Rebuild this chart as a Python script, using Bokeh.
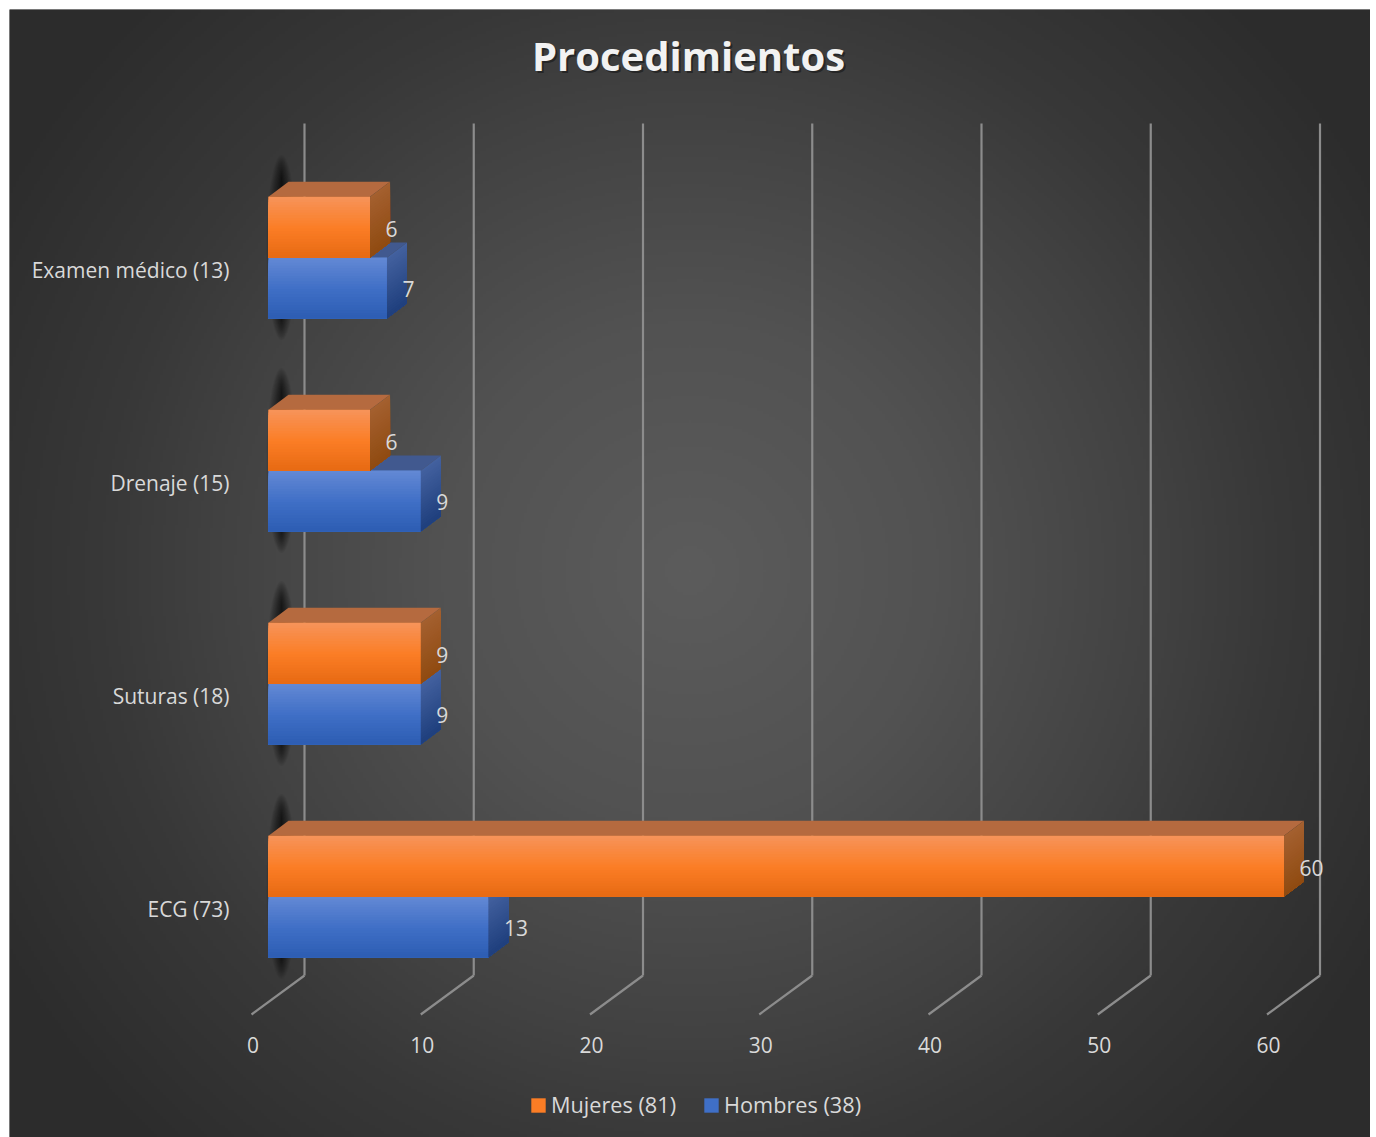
from bokeh.plotting import figure
from bokeh.models import Range1d, LinearAxis, FixedTicker, Legend, LegendItem, Label, ColumnDataSource
from bokeh.core.properties import value
from bokeh.embed import file_html
from bokeh.resources import INLINE
import numpy as np

categories = ["ECG (73)", "Suturas (18)", "Drenaje (15)", "Examen médico (13)"]
mujeres = [60, 9, 6, 6]
hombres = [13, 9, 9, 7]
ticks = [0, 10, 20, 30, 40, 50, 60]
title_text = "Procedimientos"
legend_mujeres = "Mujeres (81)"
legend_hombres = "Hombres (38)"

FONT = "Open Sans"
TXT = "#D9D9D9"
OX, OY = 9, 9                    # page position of the chart
W, H = 1361, 1128
PAGE_X0, PAGE_Y0 = 268, 896      # page pixel of value 0 / first category
PX = 1015.5 / 60                 # pixels per unit on x
PY = 213                         # pixels per category on y
xs, xe = (OX - PAGE_X0) / PX, (OX + W - PAGE_X0) / PX
ys, ye = (PAGE_Y0 - OY - H) / PY, (PAGE_Y0 - OY) / PY
dx = lambda px: px / PX
dy = lambda px: px / PY

p = figure(width=W, height=H, output_backend="svg", toolbar_location=None,
           x_range=Range1d(xs, xe), y_range=Range1d(ys, ye), min_border=0,
           outline_line_color=None, border_fill_color="#2b2b2b", background_fill_color="#2b2b2b")
p.margin = (OY, 0, 0, OX)
p.xaxis.visible = False
p.yaxis.visible = False
p.grid.visible = False

# background radial gradient
gx, gy = np.meshgrid(np.arange(0, W + 3, 3) + float(OX), OY + H - np.arange(0, H + 3, 3.0))
r = np.hypot(gx - 690, gy - 570)
lum = np.interp(r, [0, 250, 470, 590, 780, 1000], [0x5c, 0x52, 0x42, 0x38, 0x2d, 0x2b]).astype(np.uint32)
img = (255 << 24) | (lum << 16) | (lum << 8) | lum
p.image_rgba(image=[img.astype(np.uint32)], x=xs, y=ys, dw=xe - xs, dh=ye - ys)

# wall and floor lines
tk = np.array(ticks, float)
wall_top, wall_bot, floor = dy(897 - 124), dy(897 - 976), dy(897 - 1015)
grid_x, floor_x = tk + dx(36), tk - dx(17)
GRID = "#8C8C8C"
p.segment(grid_x, wall_bot, grid_x, wall_top, line_color=GRID, line_width=2.2)
p.segment(grid_x, wall_bot, floor_x, floor, line_color=GRID, line_width=2.2)

# soft shadows at the base of each bar pair
for k in range(18):
    f = 1 - k / 18
    p.ellipse(x=[dx(13)] * 4, y=[i + dy(10) for i in range(4)], width=dx(30) * f,
              height=dy(185) * (0.74 + 0.26 * f), fill_color="black", fill_alpha=0.05, line_color=None)


def lerp(stops, t):
    pos = [s[0] for s in stops]
    c = [np.interp(t, pos, [int(s[1][i:i + 2], 16) for s in stops]) for i in (1, 3, 5)]
    return "#%02x%02x%02x" % tuple(int(round(v)) for v in c)


BAR, DX, DY = dy(60.7), dx(20), dy(15)
N = 24


def draw_series(vals, base, front, side, top_color):
    n = len(vals)
    idx = np.arange(n, dtype=float)
    tops = idx + base + BAR
    bots = idx + base
    v = np.array(vals, float)
    # top face
    p.patches([[0, DX, vi + DX, vi] for vi in v],
              [[t, t + DY, t + DY, t] for t in tops], fill_color=top_color, line_color=None)
    # base front face (carries the legend swatch)
    main = p.quad(left=0, right=v, top=tops, bottom=bots, fill_color=lerp(front, 0.5), line_color=None)
    for s in range(N):
        t = s / (N - 1)
        y0 = tops - t * BAR
        p.quad(left=0, right=v, top=y0, bottom=bots, fill_color=lerp(front, t), line_color=None)
        p.patches([[vi, vi + DX, vi + DX, vi] for vi in v],
                  [[a, a + DY, b + DY, b] for a, b in zip(y0, bots)],
                  fill_color=lerp(side, t), line_color=None)
    return main


blue = draw_series(hombres, -BAR,
                   [(0, "#6288D4"), (0.5, "#3F6FC6"), (1, "#2C5CB2")],
                   [(0, "#43619F"), (1, "#1E3E7C")], "#41598F")
orange = draw_series(mujeres, 0,
                     [(0, "#F79358"), (0.5, "#FB7D25"), (1, "#E66912")],
                     [(0, "#A4602F"), (1, "#8F4A10")], "#B56A3F")

# data labels
lab = ColumnDataSource(dict(
    x=[v + dx(15.5) for v in mujeres] + [v + dx(15.5) for v in hombres],
    y=[i + BAR / 2 - dy(1.5) for i in range(4)] + [i - BAR / 2 - dy(1.5) for i in range(4)],
    t=[str(v) for v in mujeres] + [str(v) for v in hombres]))
p.text(x="x", y="y", text="t", source=lab, text_color=TXT, text_font=value(FONT),
       text_font_size="21px", text_align="left", text_baseline="middle")

# value axis, shifted to the front of the floor
shift = dx(15.5)
p.extra_x_ranges["tick"] = Range1d(xs + shift, xe + shift)
xa = LinearAxis(x_range_name="tick", ticker=FixedTicker(ticks=ticks), fixed_location=dy(897 - 1026),
                axis_line_color=None, major_tick_line_color=None, minor_tick_line_color=None,
                major_label_text_color=TXT, major_label_text_font=FONT,
                major_label_text_font_size="21px", major_label_standoff=5)
p.add_layout(xa, "below")

# category axis
cshift = dy(12.5)
p.extra_y_ranges["cat"] = Range1d(ys + cshift, ye + cshift)
ya = LinearAxis(y_range_name="cat", ticker=FixedTicker(ticks=list(range(4))),
                major_label_overrides={i: c for i, c in enumerate(categories)},
                fixed_location=dx(241 - PAGE_X0),
                axis_line_color=None, major_tick_line_color=None, minor_tick_line_color=None,
                major_label_text_color=TXT, major_label_text_font=FONT,
                major_label_text_font_size="21px", major_label_standoff=6)
p.add_layout(ya, "left")

# legend
leg = Legend(items=[LegendItem(label=legend_mujeres, renderers=[orange]),
                    LegendItem(label=legend_hombres, renderers=[blue])],
             orientation="horizontal", location=(520, 18), glyph_width=18, glyph_height=18,
             label_standoff=4, spacing=26, padding=0, margin=0, label_height=20, label_width=10,
             background_fill_alpha=0, border_line_color=None, label_text_color=TXT,
             label_text_font=FONT, label_text_font_size="21.7px")
p.add_layout(leg, "center")

# title with its soft shadow
p.add_layout(Label(x=681, y=H - 46 - 2, x_units="screen", y_units="screen", text=title_text,
                   text_color="black", text_alpha=0.4, text_font=FONT, text_font_style="bold",
                   text_font_size="40px", text_align="center", text_baseline="middle"))
p.add_layout(Label(x=679, y=H - 46, x_units="screen", y_units="screen", text=title_text,
                   text_color="#F2F2F2", text_font=FONT, text_font_style="bold",
                   text_font_size="40px", text_align="center", text_baseline="middle"))

open("out.html", "w").write(file_html(p, INLINE))
